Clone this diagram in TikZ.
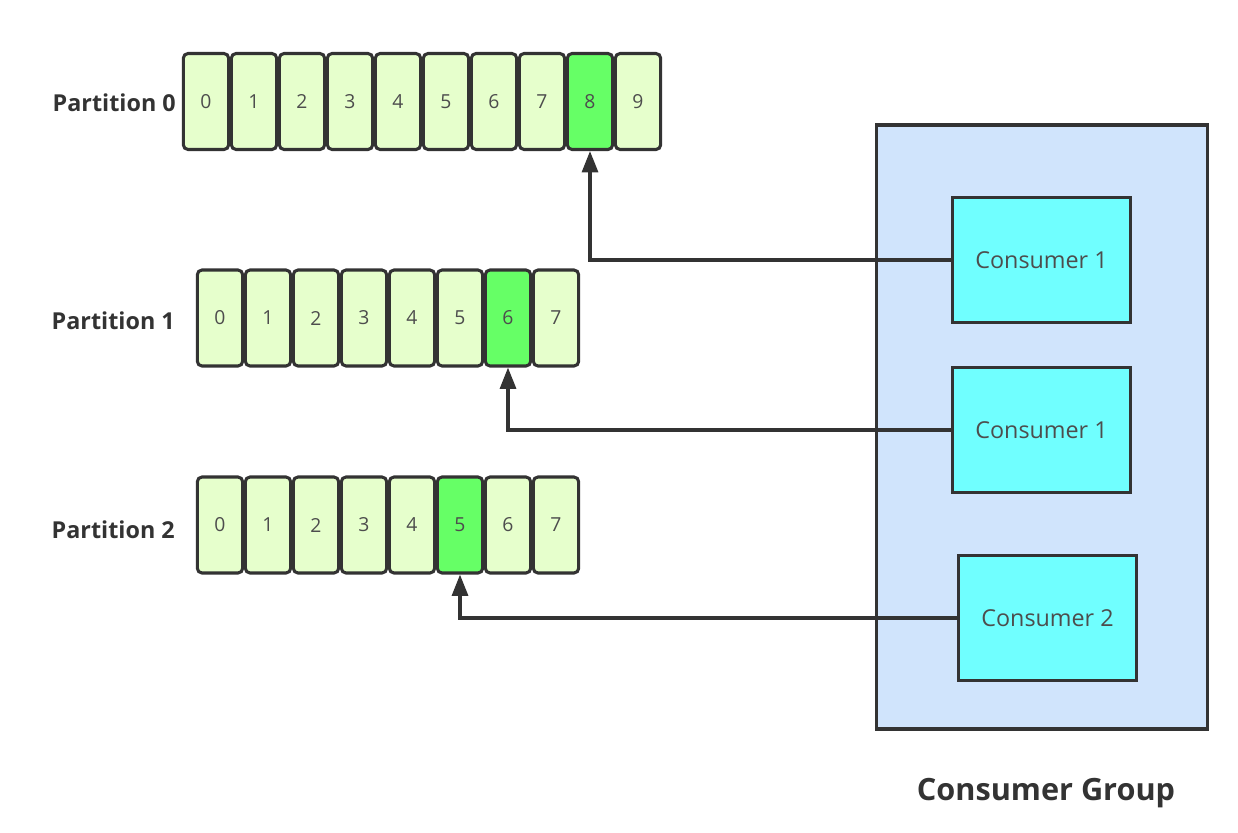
\documentclass[tikz,border=0pt]{standalone}
\usepackage{fontspec}
\setmainfont{Open Sans}
\usetikzlibrary{arrows.meta}
\definecolor{cellfill}{HTML}{E6FFCC}
\definecolor{cellhi}{HTML}{66FF66}
\definecolor{grpfill}{HTML}{D0E4FC}
\definecolor{consfill}{HTML}{70FFFF}
\definecolor{edge}{HTML}{333333}
\definecolor{txt}{HTML}{4D4D4D}
\tikzset{
  cell/.style={draw=edge, line width=2.3pt, fill=cellfill, rounded corners=3.5pt,
    minimum width=34pt, minimum height=72pt, inner sep=0pt, text=txt, font=\fontsize{14.5}{16}\selectfont},
  hi/.style={fill=cellhi},
  plabel/.style={font=\bfseries\fontsize{17.5}{19}\selectfont, text=edge, anchor=east, inner sep=0pt},
  consumer/.style={draw=edge, line width=2.3pt, fill=consfill, minimum width=134pt, minimum height=94pt,
    inner sep=0pt, text=txt, font=\fontsize{17.5}{19}\selectfont},
  link/.style={draw=edge, line width=2.3pt, -{Triangle[length=16pt,width=12pt]}},
}
\begin{document}
\begin{tikzpicture}[x=0.75pt,y=-0.75pt]
\useasboundingbox (0,0) rectangle (1238,832);
% consumer group
\node[draw=edge, line width=2.3pt, fill=grpfill, minimum width=248pt, minimum height=453pt, inner sep=0pt] (grp) at (1042,427) {};
\node[font=\bfseries\fontsize{23}{26}\selectfont, text=edge] (grplabel) at (1046,793) {Consumer Group};
% partition 0
\node[plabel] (pl0) at (176,103) {Partition 0};
\foreach \i in {0,...,9} {
  \ifnum\i=8
    \node[cell,hi] (p0c\i) at ({206+48*\i},101.5) {\i};
  \else
    \node[cell] (p0c\i) at ({206+48*\i},101.5) {\i};
  \fi
}
% partition 1
\node[plabel] (pl1) at (175,321) {Partition 1};
\foreach \i in {0,...,7} {
  \ifnum\i=6
    \node[cell,hi] (p1c\i) at ({220+48*\i},318) {\i};
  \else
    \node[cell] (p1c\i) at ({220+48*\i},318) {\i};
  \fi
}
% partition 2
\node[plabel] (pl2) at (175,530) {Partition 2};
\foreach \i in {0,...,7} {
  \ifnum\i=5
    \node[cell,hi] (p2c\i) at ({220+48*\i},525) {\i};
  \else
    \node[cell] (p2c\i) at ({220+48*\i},525) {\i};
  \fi
}
% consumers
\node[consumer] (c1) at (1041.5,260) {Consumer 1};
\node[consumer] (c1b) at (1041.5,430) {Consumer 1};
\node[consumer] (c2) at (1047.5,618) {Consumer 2};
% links
\draw[link] (c1.west) -| (p0c8.south);
\draw[link] (c1b.west) -| (p1c6.south);
\draw[link] (c2.west) -| (p2c5.south);
\end{tikzpicture}
\end{document}
